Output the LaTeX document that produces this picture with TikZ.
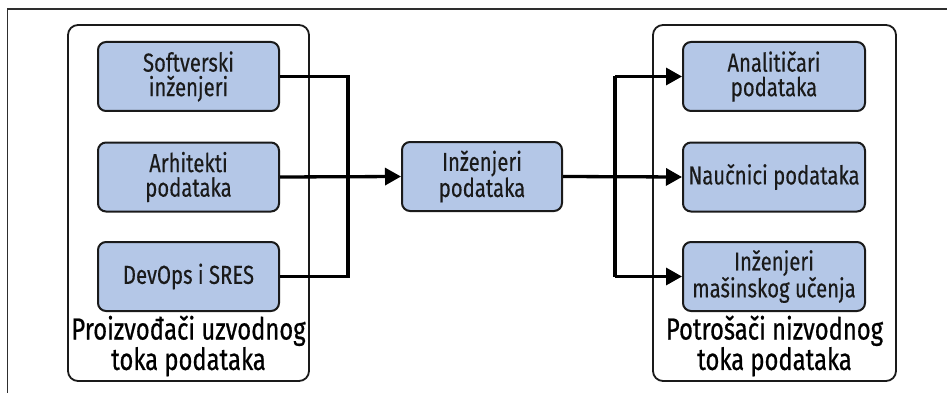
\documentclass[tikz,border=0pt]{standalone}
\usepackage{fontspec}
\setmainfont{Fira Sans}[FakeStretch=0.78, FakeBold=0.3]
\newfontfamily\labelfont{Fira Sans}[FakeStretch=0.78, FakeBold=0.6]
\usetikzlibrary{arrows.meta}
\definecolor{boxblue}{HTML}{B4C7E7}
\definecolor{ink}{HTML}{1A1A1A}
\definecolor{framegray}{HTML}{2E2E2E}
\tikzset{
  rolebox/.style={draw=ink, line width=2pt, fill=boxblue, rounded corners=8pt,
    minimum height=69pt, align=center, inner sep=0pt, text=ink,
    font=\fontsize{26}{24.5}\selectfont},
  groupbox/.style={draw=ink, line width=1.8pt, rounded corners=10pt, minimum width=#1,
    minimum height=356pt, inner sep=0pt},
  grouplabel/.style={align=center, inner sep=0pt, text=black,
    font=\labelfont\fontsize{30.5}{26}\selectfont},
  link/.style={draw=black, line width=3.3pt, line join=miter},
  flow/.style={link, -{Triangle[length=16pt,width=17pt]}},
}
\begin{document}
\begin{tikzpicture}[x=1pt,y=-1pt]
  \useasboundingbox (0,0) rectangle (947,393);
  % partial frame along the top and left edges
  \draw[framegray, line width=1.3pt] (7.5,393) -- (7.5,9) -- (947,9);

  % producer group
  \node[groupbox=241pt] (prod) at (188.5,203) {};
  \node[rolebox, minimum width=181pt] (sw)  at (188.5,76.5)  {Softverski\\inženjeri};
  \node[rolebox, minimum width=181pt] (arh) at (188.5,177)   {Arhitekti\\podataka};
  \node[rolebox, minimum width=181pt] (dev) at (188.5,276.5) {DevOps i SRES};
  \node[grouplabel] (prodlbl) at (188.5,346) {Proizvođači uzvodnog\\toka podataka};

  % data engineers in the middle
  \node[rolebox, minimum width=160pt] (de) at (482,176.5) {Inženjeri\\podataka};

  % consumer group
  \node[groupbox=243pt] (cons) at (774.5,203) {};
  \node[rolebox, minimum width=182pt] (an) at (774,76.5)  {Analitičari\\podataka};
  \node[rolebox, minimum width=182pt] (ds) at (774,177)   {Naučnici podataka};
  \node[rolebox, minimum width=182pt] (ml) at (774,276.5) {Inženjeri\\mašinskog učenja};
  \node[grouplabel] (conslbl) at (774.5,346) {Potrošači nizvodnog\\toka podataka};

  % junction points of the bus lines
  \coordinate (ja) at (348,76.5);
  \coordinate (jb) at (348,276.5);
  \coordinate (ka) at (615,76.5);
  \coordinate (kb) at (615,276.5);

  % producers into data engineers
  \draw[link] (sw.east) -- (ja) -- (jb) -- (dev.east);
  \draw[flow] (arh.east) -- (de.west);

  % data engineers out to consumers
  \draw[flow] (de.east) -- (ds.west);
  \draw[link] (ka) -- (kb);
  \draw[flow] (ka) -- (an.west);
  \draw[flow] (kb) -- (ml.west);
\end{tikzpicture}
\end{document}
